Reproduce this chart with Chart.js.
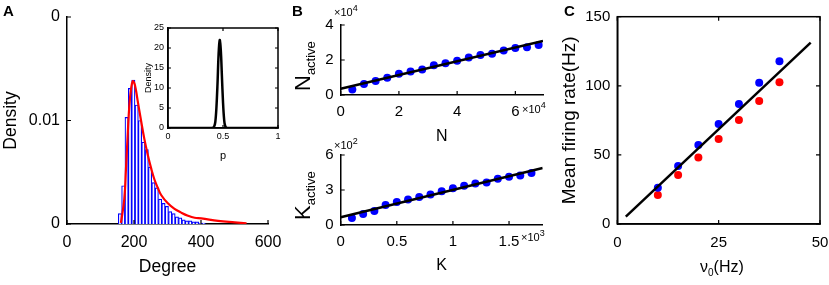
<!DOCTYPE html>
<html>
<head>
<meta charset="utf-8">
<script src="https://cdn.jsdelivr.net/npm/chart.js@4.4.1/dist/chart.umd.min.js"></script>
<style>
	body { margin: 0; background: #fff; width: 829px; height: 285px; position: relative; overflow: hidden; font-family: Arial, "Liberation Sans", sans-serif; }
	canvas { position: absolute; }
	.lbl { position: absolute; white-space: nowrap; color: #000; line-height: 1; }
	.lbl sup, .lbl sub { line-height: 0; }
	.rot { transform: rotate(-90deg); transform-origin: left top; }
</style>
</head>
<body>
<canvas id="chartA" width="290" height="285" style="left:0;top:0"></canvas>
<canvas id="chartInset" width="148" height="145" style="left:140px;top:20px"></canvas>
<canvas id="chartN" width="262" height="145" style="left:285px;top:0"></canvas>
<canvas id="chartK" width="262" height="140" style="left:285px;top:145px"></canvas>
<canvas id="chartC" width="269" height="285" style="left:560px;top:0"></canvas>

<div class="lbl" style="left:3px;top:3px;font-size:15px;font-weight:bold">A</div>
<div class="lbl" style="left:292px;top:3px;font-size:15px;font-weight:bold">B</div>
<div class="lbl" style="left:564px;top:3px;font-size:15px;font-weight:bold">C</div>

<div class="lbl" style="left:334px;top:7px;font-size:11px">×10<sup style="font-size:9px">4</sup></div>
<div class="lbl" style="left:522px;top:104px;font-size:11px">×10<sup style="font-size:9px">4</sup></div>
<div class="lbl" style="left:334px;top:140px;font-size:11px">×10<sup style="font-size:9px">2</sup></div>
<div class="lbl" style="left:521px;top:232px;font-size:11px">×10<sup style="font-size:9px">3</sup></div>

<div class="lbl rot" style="left:292px;top:91px;font-size:22px">N<sub style="font-size:13px">active</sub></div>
<div class="lbl rot" style="left:292px;top:220px;font-size:22px">K<sub style="font-size:13px">active</sub></div>
<div class="lbl" style="left:700px;top:259px;font-size:16px">ν<sub style="font-size:10px">0</sub>(Hz)</div>

<script>
// A: degree histogram + fit
const histBinCenters = [158, 168, 178, 188, 198, 208, 218, 228, 238, 248, 258, 268, 278, 288, 298, 308, 318, 328, 338, 348, 358, 368, 378, 388, 398, 408];
const histDensity = [0.0010, 0.0037, 0.0103, 0.0131, 0.0139, 0.0115, 0.0100, 0.0079, 0.0072, 0.0055, 0.0040, 0.0035, 0.0024, 0.0020, 0.0017, 0.0012, 0.0010, 0.0007, 0.0006, 0.0004, 0.0003, 0.0003, 0.0002, 0.0002, 0.0001, 0.0001];
const fitDegree = [161, 171, 176, 181, 186, 191, 196, 201, 206, 211, 221, 231, 241, 251, 261, 271, 281, 301, 321, 341, 361, 381, 401, 451, 501, 536];
const fitDensity = [0.0001, 0.0024, 0.0053, 0.0085, 0.0114, 0.0130, 0.0138, 0.0136, 0.0129, 0.0119, 0.0100, 0.0082, 0.0067, 0.0054, 0.0043, 0.0035, 0.0028, 0.0020, 0.00146, 0.0011, 0.0008, 0.0006, 0.00055, 0.0003, 0.00016, 0.00007];
const xTicksA = [0, 200, 400, 600];
const yTicksA = [0, 0.01, 0.02];
const yTickLabelsA = ["0", "0.01", "0"];

// A inset: distribution of p
const insetP = [0, 0.38, 0.41, 0.42, 0.43, 0.44, 0.45, 0.46, 0.47, 0.48, 0.49, 0.50, 0.51, 0.52, 0.54, 1];
const insetDensity = [0, 0, 0.1, 0.4, 1.5, 5, 11, 18.5, 22, 19.5, 13, 6.5, 2.2, 0.5, 0, 0];
const xTicksInset = [0, 0.5, 1];
const yTicksInset = [0, 5, 10, 15, 20, 25];

// B: N vs N_active, K vs K_active
const nTotal = [4000, 8000, 12000, 16000, 20000, 24000, 28000, 32000, 36000, 40000, 44000, 48000, 52000, 56000, 60000, 64000, 68000];
const nActive = [3200, 6300, 8000, 9800, 12100, 13400, 14600, 17000, 18200, 19600, 21400, 22900, 23600, 25400, 26800, 27300, 28600];
const nFitX = [0, 69500];
const nFitY = [3600, 30900];
const xTicksN = [0, 20000, 40000, 60000];
const yTicksN = [0, 20000, 40000];
const kTotal = [100, 200, 300, 400, 500, 600, 700, 800, 900, 1000, 1100, 1200, 1300, 1400, 1500, 1600, 1700];
const kActive = [61, 94, 121, 171, 198, 218, 240, 262, 289, 314, 336, 355, 364, 397, 413, 424, 446];
const kFitX = [0, 1800];
const kFitY = [66, 488];
const xTicksK = [0, 500, 1000, 1500];
const yTicksK = [0, 300, 600];

// C: mean firing rate vs nu0
const nu0 = [10, 15, 20, 25, 30, 35, 40];
const rateBlue = [26.3, 42.0, 57.2, 72.3, 86.8, 102.2, 117.7];
const rateRed = [21.0, 35.4, 48.2, 61.5, 75.2, 89.0, 102.5];
const cFitX = [2.1, 47.7];
const cFitY = [5.3, 131.2];
const xTicksC = [0, 25, 50];
const yTicksC = [0, 50, 100, 150];

Chart.defaults.font.family = 'Arial, "Liberation Sans", sans-serif';
Chart.defaults.color = "#000";

const xy = (xs, ys) => xs.map((v, i) => ({ x: v, y: ys[i] }));

// matlab style ticks pointing into the axes, optional full box
const frame = {
	id: "frame",
	afterDraw(chart, args, opts) {
		const { ctx, chartArea: a, scales } = chart;
		const len = opts.len || 4;
		ctx.save();
		ctx.strokeStyle = "#000";
		ctx.lineWidth = opts.lineWidth || 1.2;
		ctx.beginPath();
		scales.x.ticks.forEach((t) => {
			const px = scales.x.getPixelForValue(t.value);
			ctx.moveTo(px, a.bottom);
			ctx.lineTo(px, a.bottom - len);
			if (opts.box) {
				ctx.moveTo(px, a.top);
				ctx.lineTo(px, a.top + len);
			}
		});
		scales.y.ticks.forEach((t) => {
			const py = scales.y.getPixelForValue(t.value);
			ctx.moveTo(a.left, py);
			ctx.lineTo(a.left + len, py);
			if (opts.box) {
				ctx.moveTo(a.right, py);
				ctx.lineTo(a.right - len, py);
			}
		});
		ctx.stroke();
		if (opts.box) {
			ctx.lineWidth = opts.boxWidth || 1.5;
			ctx.strokeRect(a.left, a.top, a.right - a.left, a.bottom - a.top);
		}
		ctx.restore();
	},
};

function axis(min, max, tickValues, tickFont, pad, fitSize, horizontal) {
	return {
		type: "linear",
		min: min,
		max: max,
		offset: false,
		grid: { display: false, drawTicks: false },
		border: { color: "#000", width: 1.5 },
		ticks: { padding: pad, maxRotation: 0, autoSkip: false, font: { size: tickFont }, callback: (v) => String(v) },
		afterBuildTicks: (s) => {
			s.ticks = tickValues.map((v) => ({ value: v }));
		},
		afterFit: (s) => {
			if (horizontal) s.height = fitSize;
			else s.width = fitSize;
			// labels may hang over the edges, don't let them shrink the plot
			s.paddingLeft = s.paddingRight = s.paddingTop = s.paddingBottom = 0;
		},
	};
}

const common = {
	responsive: false,
	animation: false,
	events: [],
};

// panel A
const aX = axis(0, 600, xTicksA, 16, 9, 61, true);
aX.title = { display: true, text: "Degree", font: { size: 17.5, lineHeight: 1 }, padding: { top: 0, bottom: 9 } };
const aY = axis(0, 0.02, yTicksA, 16, 7, 67, false);
aY.ticks.callback = (v, i) => yTickLabelsA[i];
aY.title = { display: true, text: "Density", font: { size: 17.5, lineHeight: 1 }, padding: { top: 2, bottom: 0 } };

new Chart(document.getElementById("chartA"), {
	type: "bar",
	data: {
		datasets: [
			{ type: "line", data: xy(fitDegree, fitDensity), borderColor: "#ff0000", borderWidth: 2.2, pointRadius: 0, tension: 0.4, fill: false },
			{ type: "bar", data: xy(histBinCenters, histDensity), backgroundColor: "#ffffff", borderColor: "#0000ff", borderWidth: 1.2, barPercentage: 1, categoryPercentage: 1 },
		],
	},
	options: {
		...common,
		layout: { padding: { top: 17, right: 22, left: 0, bottom: 0 } },
		plugins: { legend: { display: false }, tooltip: { enabled: false }, frame: { box: false } },
		scales: { x: aX, y: aY },
	},
	plugins: [frame],
});

// inset
const iX = axis(0, 1, xTicksInset, 9, 3, 37, true);
iX.title = { display: true, text: "p", font: { size: 11, lineHeight: 1 }, padding: { top: 0, bottom: 4 } };
const iY = axis(0, 25, yTicksInset, 9, 4, 28, false);
iY.title = { display: true, text: "Density", font: { size: 9, lineHeight: 1 }, padding: { top: 4, bottom: 0 } };

new Chart(document.getElementById("chartInset"), {
	type: "line",
	data: {
		datasets: [{ data: xy(insetP, insetDensity), borderColor: "#000", borderWidth: 2.5, pointRadius: 0, tension: 0.35, fill: false }],
	},
	options: {
		...common,
		layout: { padding: { top: 8, right: 10, left: 0, bottom: 0 } },
		plugins: { legend: { display: false }, tooltip: { enabled: false }, frame: { box: true, len: 3 } },
		scales: { x: iX, y: iY },
	},
	plugins: [frame],
});

// panel B top
const nX = axis(0, 69500, xTicksN, 15, 8, 50, true);
nX.ticks.callback = (v) => v / 10000;
nX.title = { display: true, text: "N", font: { size: 16, lineHeight: 1 }, padding: { top: 0, bottom: 0 } };
const nY = axis(0, 40000, yTicksN, 15, 7, 55.7, false);
nY.ticks.callback = (v) => v / 10000;

new Chart(document.getElementById("chartN"), {
	type: "scatter",
	data: {
		datasets: [
			{ type: "line", data: xy(nFitX, nFitY), borderColor: "#000", borderWidth: 2.5, pointRadius: 0, fill: false },
			{ data: xy(nTotal, nActive), backgroundColor: "#0000ff", borderWidth: 0, pointRadius: 4 },
		],
	},
	options: {
		...common,
		layout: { padding: { top: 25, right: 3.7, left: 0, bottom: 0 } },
		plugins: { legend: { display: false }, tooltip: { enabled: false }, frame: { box: false } },
		scales: { x: nX, y: nY },
	},
	plugins: [frame],
});

// panel B bottom
const kX = axis(0, 1800, xTicksK, 15, 8, 60, true);
kX.ticks.callback = (v) => v / 1000;
kX.title = { display: true, text: "K", font: { size: 16, lineHeight: 1 }, padding: { top: 0, bottom: 11 } };
const kY = axis(0, 600, yTicksK, 15, 7, 55.7, false);
kY.ticks.callback = (v) => v / 100;

new Chart(document.getElementById("chartK"), {
	type: "scatter",
	data: {
		datasets: [
			{ type: "line", data: xy(kFitX, kFitY), borderColor: "#000", borderWidth: 2.5, pointRadius: 0, fill: false },
			{ data: xy(kTotal, kActive), backgroundColor: "#0000ff", borderWidth: 0, pointRadius: 4 },
		],
	},
	options: {
		...common,
		layout: { padding: { top: 10, right: 4.3, left: 0, bottom: 0 } },
		plugins: { legend: { display: false }, tooltip: { enabled: false }, frame: { box: false } },
		scales: { x: kX, y: kY },
	},
	plugins: [frame],
});

// panel C
const cX = axis(0, 50, xTicksC, 15, 10, 61, true);
const cY = axis(0, 150, yTicksC, 15, 7, 57.3, false);
cY.title = { display: true, text: "Mean firing rate(Hz)", font: { size: 19, lineHeight: 1 }, padding: { top: 0, bottom: 0 } };

new Chart(document.getElementById("chartC"), {
	type: "scatter",
	data: {
		datasets: [
			{ type: "line", data: xy(cFitX, cFitY), borderColor: "#000", borderWidth: 2.5, pointRadius: 0, fill: false },
			{ data: xy(nu0, rateBlue), backgroundColor: "#0000ff", borderWidth: 0, pointRadius: 4 },
			{ data: xy(nu0, rateRed), backgroundColor: "#ff0000", borderWidth: 0, pointRadius: 4 },
		],
	},
	options: {
		...common,
		layout: { padding: { top: 16.7, right: 9, left: 0, bottom: 0 } },
		plugins: { legend: { display: false }, tooltip: { enabled: false }, frame: { box: true } },
		scales: { x: cX, y: cY },
	},
	plugins: [frame],
});
</script>
</body>
</html>
